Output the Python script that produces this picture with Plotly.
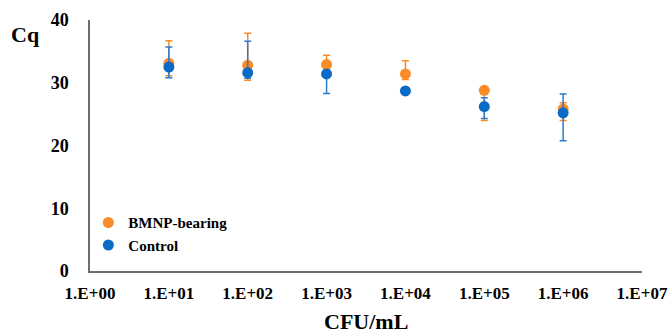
import plotly.graph_objects as go

cfu = [1e1, 1e2, 1e3, 1e4, 1e5, 1e6]
bmnp_cq = [33.1, 32.8, 32.9, 31.4, 28.8, 25.8]
bmnp_err_plus = [3.6, 5.1, 1.5, 2.1, 0.5, 1.0]
bmnp_err_minus = [2.0, 2.4, 1.5, 0.9, 4.8, 1.8]
ctrl_cq = [32.5, 31.6, 31.4, 28.7, 26.2, 25.2]
ctrl_err_plus = [3.2, 5.0, 0.6, 0.4, 1.4, 3.0]
ctrl_err_minus = [1.7, 0.9, 3.1, 0.4, 1.9, 4.45]

x_tickvals = [1e0, 1e1, 1e2, 1e3, 1e4, 1e5, 1e6, 1e7]
x_ticktext = ["1.E+00", "1.E+01", "1.E+02", "1.E+03", "1.E+04", "1.E+05", "1.E+06", "1.E+07"]
y_tickvals = [0, 10, 20, 30, 40]

ORANGE = "#F98B28"
BLUE = "#0A6AC6"
FONT = "Times New Roman, Liberation Serif, serif"

fig = go.Figure()
fig.add_trace(go.Scatter(
    x=cfu, y=bmnp_cq, mode="markers", name="BMNP-bearing",
    marker=dict(color=ORANGE, size=11),
    error_y=dict(type="data", symmetric=False, array=bmnp_err_plus,
                 arrayminus=bmnp_err_minus, color=ORANGE, thickness=1.5, width=3.5),
))
fig.add_trace(go.Scatter(
    x=cfu, y=ctrl_cq, mode="markers", name="Control",
    marker=dict(color=BLUE, size=11),
    error_y=dict(type="data", symmetric=False, array=ctrl_err_plus,
                 arrayminus=ctrl_err_minus, color="#2A7BCF", thickness=1.5, width=3.5),
))

fig.update_layout(
    width=670, height=335,
    margin=dict(l=90, r=28, t=20, b=64, autoexpand=False),
    paper_bgcolor="white", plot_bgcolor="white",
    font=dict(family=FONT, color="black"),
    showlegend=True,
    legend=dict(x=-0.003, y=0.258, xanchor="left", yanchor="top",
                font=dict(family=FONT, size=15, color="black", weight="bold"),
                bgcolor="rgba(0,0,0,0)", itemwidth=30, tracegroupgap=2,
                traceorder="normal"),
    xaxis=dict(type="log", range=[0, 7], tickvals=x_tickvals, ticktext=x_ticktext,
               showgrid=False, zeroline=False, showline=True, linecolor="#6E6E6E",
               linewidth=1.5, ticks="", ticklabelstandoff=6, automargin=False,
               tickfont=dict(family=FONT, size=17, color="black", weight="bold")),
    yaxis=dict(range=[0, 40], tickvals=y_tickvals, showgrid=False, zeroline=False,
               showline=True, linecolor="#6E6E6E", linewidth=1.5, ticks="",
               ticklabelstandoff=16, automargin=False,
               tickfont=dict(family=FONT, size=18, color="black", weight="bold")),
    annotations=[
        dict(text="Cq", xref="paper", yref="paper", x=-0.116, y=0.944,
             xanchor="center", yanchor="middle", showarrow=False,
             font=dict(family=FONT, size=22, color="black", weight="bold")),
        dict(text="CFU/mL", xref="paper", yref="paper", x=0.5, y=-0.2,
             xanchor="center", yanchor="middle", showarrow=False,
             font=dict(family=FONT, size=22, color="black", weight="bold")),
    ],
)

fig.write_html(
    "out.html",
    config={"displayModeBar": False},
    post_script="document.body.style.margin='0';document.body.style.overflow='hidden';",
)
